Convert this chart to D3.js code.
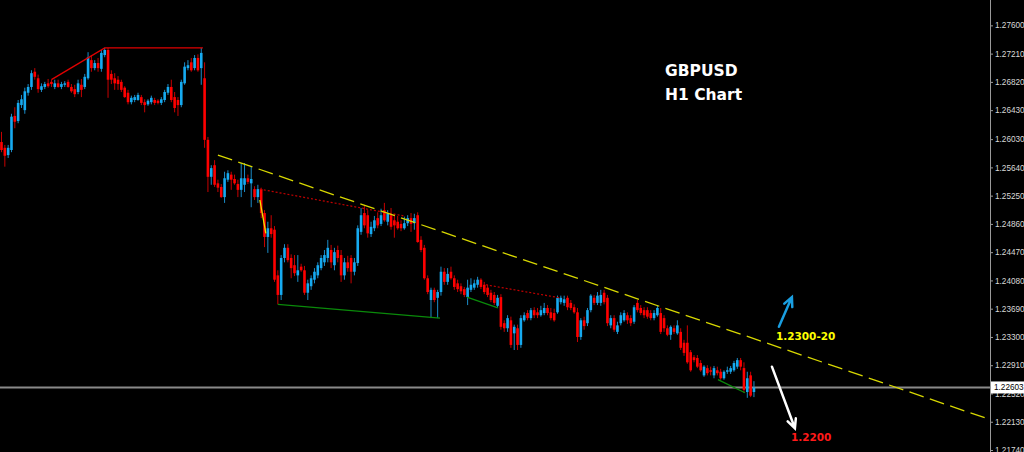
<!DOCTYPE html>
<html><head><meta charset="utf-8">
<script src="https://cdn.jsdelivr.net/npm/d3@7"></script>
<style>html,body{margin:0;padding:0;background:#000;overflow:hidden}</style>
</head><body><svg id="c" width="1024" height="452"></svg>
<script>
// GBPUSD H1 candles (price)
const openP = [1.2599,1.2591,1.2581,1.2588,1.2635,1.2628,1.2650,1.2643,1.2667,1.2675,
1.2696,1.2687,1.2671,1.2675,1.2680,1.2682,1.2675,1.2680,1.2675,1.2678,
1.2682,1.2675,1.2672,1.2668,1.2678,1.2675,1.2687,1.2712,1.2701,1.2708,
1.2700,1.2719,1.2726,1.2693,1.2687,1.2685,1.2682,1.2674,1.2667,1.2654,
1.2657,1.2657,1.2661,1.2654,1.2651,1.2654,1.2657,1.2656,1.2653,1.2657,
1.2667,1.2675,1.2661,1.2657,1.2650,1.2680,1.2701,1.2709,1.2701,1.2715,
1.2701,1.2687,1.2602,1.2551,1.2567,1.2542,1.2537,1.2523,1.2547,1.2554,
1.2548,1.2541,1.2533,1.2540,1.2549,1.2542,1.2534,1.2523,1.2534,1.2501,
1.2468,1.2480,1.2478,1.2415,1.2388,1.2439,1.2453,1.2439,1.2429,1.2415,
1.2427,1.2422,1.2391,1.2400,1.2409,1.2415,1.2425,1.2433,1.2439,1.2450,
1.2429,1.2450,1.2443,1.2415,1.2433,1.2439,1.2420,1.2432,1.2475,1.2501,
1.2498,1.2472,1.2480,1.2494,1.2486,1.2505,1.2489,1.2498,1.2491,1.2489,
1.2486,1.2480,1.2487,1.2494,1.2487,1.2498,1.2464,1.2453,1.2411,1.2381,
1.2395,1.2384,1.2392,1.2420,1.2406,1.2420,1.2411,1.2404,1.2400,1.2396,
1.2385,1.2395,1.2398,1.2402,1.2409,1.2402,1.2398,1.2391,1.2388,1.2373,
1.2385,1.2349,1.2342,1.2353,1.2335,1.2342,1.2319,1.2353,1.2363,1.2356,
1.2367,1.2364,1.2360,1.2363,1.2370,1.2364,1.2363,1.2364,1.2378,1.2377,
1.2384,1.2377,1.2371,1.2364,1.2330,1.2353,1.2349,1.2367,1.2384,1.2377,
1.2377,1.2391,1.2384,1.2346,1.2356,1.2337,1.2349,1.2353,1.2360,1.2356,
1.2351,1.2377,1.2370,1.2367,1.2367,1.2363,1.2356,1.2360,1.2363,1.2356,
1.2342,1.2333,1.2342,1.2335,1.2337,1.2322,1.2322,1.2309,1.2302,1.2301,
1.2294,1.2277,1.2287,1.2284,1.2277,1.2284,1.2282,1.2273,1.2282,1.2282,
1.2284,1.2289,1.2298,1.2287,1.2254,1.2277,1.2254];
const highP = [1.2613,1.2595,1.2595,1.2638,1.2647,1.2657,1.2664,1.2674,1.2679,1.2698,
1.2701,1.2692,1.2680,1.2682,1.2686,1.2685,1.2685,1.2685,1.2682,1.2683,
1.2685,1.2679,1.2678,1.2685,1.2686,1.2693,1.2723,1.2719,1.2712,1.2715,
1.2726,1.2729,1.2729,1.2698,1.2694,1.2690,1.2685,1.2676,1.2671,1.2663,
1.2664,1.2667,1.2664,1.2658,1.2658,1.2663,1.2660,1.2658,1.2661,1.2671,
1.2679,1.2685,1.2668,1.2661,1.2685,1.2709,1.2712,1.2715,1.2719,1.2720,
1.2729,1.2709,1.2606,1.2567,1.2574,1.2547,1.2541,1.2558,1.2560,1.2558,
1.2554,1.2547,1.2570,1.2570,1.2554,1.2565,1.2538,1.2540,1.2536,1.2505,
1.2489,1.2498,1.2483,1.2422,1.2443,1.2458,1.2458,1.2444,1.2443,1.2443,
1.2431,1.2428,1.2409,1.2415,1.2425,1.2433,1.2443,1.2450,1.2464,1.2457,
1.2453,1.2456,1.2450,1.2439,1.2442,1.2443,1.2439,1.2484,1.2508,1.2512,
1.2505,1.2489,1.2497,1.2502,1.2507,1.2515,1.2505,1.2508,1.2500,1.2497,
1.2491,1.2496,1.2498,1.2501,1.2500,1.2502,1.2469,1.2457,1.2415,1.2398,
1.2398,1.2395,1.2427,1.2425,1.2425,1.2427,1.2415,1.2409,1.2404,1.2399,
1.2409,1.2411,1.2409,1.2413,1.2411,1.2406,1.2402,1.2395,1.2392,1.2388,
1.2389,1.2353,1.2360,1.2358,1.2347,1.2347,1.2360,1.2364,1.2367,1.2370,
1.2371,1.2370,1.2373,1.2377,1.2374,1.2370,1.2369,1.2387,1.2387,1.2387,
1.2387,1.2381,1.2375,1.2370,1.2356,1.2358,1.2370,1.2389,1.2388,1.2392,
1.2395,1.2395,1.2388,1.2360,1.2360,1.2351,1.2364,1.2367,1.2364,1.2360,
1.2374,1.2381,1.2374,1.2371,1.2371,1.2367,1.2367,1.2374,1.2370,1.2360,
1.2346,1.2346,1.2346,1.2353,1.2342,1.2326,1.2346,1.2312,1.2305,1.2305,
1.2298,1.2291,1.2291,1.2289,1.2290,1.2289,1.2286,1.2284,1.2289,1.2290,
1.2297,1.2301,1.2301,1.2295,1.2282,1.2282,1.2269];
const lowP = [1.2585,1.2565,1.2577,1.2585,1.2618,1.2625,1.2646,1.2638,1.2663,1.2671,
1.2685,1.2667,1.2668,1.2672,1.2674,1.2675,1.2672,1.2674,1.2672,1.2675,
1.2674,1.2667,1.2661,1.2665,1.2661,1.2672,1.2685,1.2696,1.2698,1.2696,
1.2696,1.2716,1.2660,1.2679,1.2671,1.2671,1.2668,1.2660,1.2651,1.2651,
1.2654,1.2656,1.2650,1.2640,1.2649,1.2651,1.2650,1.2651,1.2650,1.2654,
1.2664,1.2654,1.2640,1.2635,1.2647,1.2678,1.2698,1.2696,1.2698,1.2696,
1.2678,1.2591,1.2530,1.2540,1.2537,1.2530,1.2522,1.2515,1.2544,1.2533,
1.2540,1.2523,1.2523,1.2530,1.2541,1.2509,1.2519,1.2515,1.2494,1.2454,
1.2446,1.2467,1.2406,1.2375,1.2381,1.2433,1.2433,1.2411,1.2414,1.2406,
1.2420,1.2388,1.2381,1.2395,1.2404,1.2411,1.2422,1.2428,1.2433,1.2425,
1.2422,1.2433,1.2406,1.2409,1.2420,1.2404,1.2415,1.2428,1.2471,1.2480,
1.2467,1.2468,1.2476,1.2480,1.2483,1.2489,1.2484,1.2478,1.2467,1.2478,
1.2476,1.2478,1.2483,1.2475,1.2478,1.2460,1.2447,1.2409,1.2389,1.2356,
1.2378,1.2356,1.2387,1.2402,1.2402,1.2409,1.2395,1.2392,1.2389,1.2385,
1.2374,1.2392,1.2395,1.2398,1.2396,1.2389,1.2385,1.2378,1.2374,1.2370,
1.2340,1.2337,1.2337,1.2315,1.2312,1.2312,1.2315,1.2351,1.2353,1.2353,
1.2356,1.2356,1.2358,1.2360,1.2360,1.2353,1.2351,1.2362,1.2375,1.2373,
1.2367,1.2367,1.2362,1.2323,1.2326,1.2340,1.2345,1.2364,1.2374,1.2374,
1.2373,1.2375,1.2345,1.2342,1.2337,1.2334,1.2346,1.2351,1.2348,1.2345,
1.2348,1.2364,1.2360,1.2356,1.2355,1.2353,1.2353,1.2358,1.2334,1.2337,
1.2331,1.2326,1.2334,1.2333,1.2312,1.2304,1.2293,1.2282,1.2295,1.2287,
1.2282,1.2275,1.2277,1.2277,1.2273,1.2277,1.2271,1.2271,1.2279,1.2279,
1.2282,1.2286,1.2284,1.2253,1.2246,1.2247,1.2247];
const closeP = [1.2588,1.2580,1.2591,1.2634,1.2627,1.2653,1.2658,1.2669,1.2675,1.2694,
1.2689,1.2672,1.2676,1.2679,1.2676,1.2679,1.2680,1.2675,1.2679,1.2680,
1.2675,1.2669,1.2665,1.2680,1.2671,1.2689,1.2716,1.2701,1.2708,1.2701,
1.2722,1.2726,1.2685,1.2685,1.2680,1.2679,1.2671,1.2661,1.2654,1.2660,
1.2661,1.2664,1.2653,1.2650,1.2656,1.2660,1.2653,1.2653,1.2658,1.2668,
1.2675,1.2657,1.2646,1.2650,1.2682,1.2703,1.2705,1.2698,1.2715,1.2698,
1.2722,1.2602,1.2551,1.2563,1.2540,1.2536,1.2523,1.2549,1.2556,1.2547,
1.2542,1.2533,1.2549,1.2549,1.2544,1.2548,1.2523,1.2534,1.2501,1.2468,
1.2480,1.2472,1.2409,1.2388,1.2439,1.2453,1.2436,1.2425,1.2418,1.2422,
1.2422,1.2391,1.2404,1.2411,1.2420,1.2429,1.2439,1.2443,1.2453,1.2433,
1.2447,1.2439,1.2415,1.2433,1.2425,1.2420,1.2433,1.2480,1.2498,1.2484,
1.2473,1.2482,1.2491,1.2484,1.2498,1.2491,1.2500,1.2482,1.2484,1.2480,
1.2480,1.2487,1.2494,1.2486,1.2494,1.2461,1.2450,1.2411,1.2392,1.2395,
1.2381,1.2392,1.2420,1.2406,1.2417,1.2411,1.2399,1.2396,1.2393,1.2388,
1.2398,1.2402,1.2404,1.2409,1.2399,1.2392,1.2388,1.2381,1.2377,1.2384,
1.2344,1.2342,1.2356,1.2319,1.2344,1.2319,1.2356,1.2360,1.2356,1.2367,
1.2360,1.2360,1.2367,1.2370,1.2363,1.2356,1.2353,1.2384,1.2384,1.2382,
1.2371,1.2370,1.2364,1.2330,1.2353,1.2345,1.2367,1.2387,1.2377,1.2387,
1.2388,1.2378,1.2349,1.2356,1.2340,1.2346,1.2360,1.2363,1.2353,1.2349,
1.2371,1.2367,1.2363,1.2360,1.2358,1.2356,1.2363,1.2370,1.2337,1.2342,
1.2333,1.2344,1.2337,1.2346,1.2315,1.2308,1.2295,1.2284,1.2298,1.2289,
1.2284,1.2289,1.2280,1.2282,1.2287,1.2280,1.2273,1.2282,1.2284,1.2287,
1.2294,1.2298,1.2289,1.2257,1.2273,1.2249,1.22603];

const priceTicks = [1.27600,1.27210,1.26820,1.26430,1.26030,1.25640,1.25250,1.24860,
  1.24470,1.24080,1.23690,1.23300,1.22910,1.22520,1.22130,1.21740];
const lastPrice = 1.22603;

// annotation lines [barIndex, price]
const redSolid   = [[15,1.2685],[31,1.2729],[60.5,1.2729]];
const redDotted1 = [[77.6,1.2534],[120.9,1.2497]];
const redDotted2 = [[145.5,1.2402],[167.7,1.2384]];
const green1 = [[83,1.2375],[131.7,1.2356]];
const green2 = [[139.8,1.2385],[149.1,1.2370]];
const green3 = [[215.2,1.2271],[223.3,1.2253]];
const yellowShort = [[77.6,1.2519],[79.4,1.2473]];
const trendLine = [[65,1.2581],[296.9,1.2216]];
const upArrow = [[233.5,1.2344],[237.4,1.2385]];
const downArrow = [[231.4,1.2289],[238.3,1.2204]];
const targetLabels = [
  {text:"1.2300-20", i:232.6, p:1.2331, color:"#ffff00"},
  {text:"1.2200", i:237.1, p:1.2191, color:"#ff1a1a"}
];
const titleLines = ["GBPUSD","H1 Chart"];

const W = 1024, H = 452, axisX = 990;
const svg = d3.select("#c");
svg.append("rect").attr("width",W).attr("height",H).attr("fill","#000");

const x = d3.scaleLinear().domain([0, 296.9]).range([1.5, axisX]);
const y = d3.scaleLinear().domain([1.217124, 1.2795]).range([H, 0]);

const plot = svg.append("g");
const line = d3.line().x(d=>x(d[0])).y(d=>y(d[1]));

// current price line
plot.append("line").attr("x1",0).attr("x2",axisX).attr("y1",y(lastPrice)).attr("y2",y(lastPrice))
  .attr("stroke","#8a8a8a").attr("stroke-width",2);

// candles
const idx = d3.range(openP.length);
const bw = 2.6;
const g = plot.append("g");
g.selectAll("line.w").data(idx).join("line").attr("class","w")
  .attr("x1",i=>x(i)).attr("x2",i=>x(i))
  .attr("y1",i=>y(highP[i])).attr("y2",i=>y(lowP[i]))
  .attr("stroke",i=>closeP[i]>=openP[i]?"#1a8cc8":"#c80000").attr("stroke-width",1);
g.selectAll("rect.b").data(idx).join("rect").attr("class","b")
  .attr("x",i=>x(i)-bw/2).attr("width",bw)
  .attr("y",i=>y(Math.max(openP[i],closeP[i])))
  .attr("height",i=>Math.max(1,Math.abs(y(openP[i])-y(closeP[i]))))
  .attr("fill",i=>closeP[i]>=openP[i]?"#16aaf0":"#ff0000");

// annotation lines
plot.append("path").attr("d",line(redSolid)).attr("fill","none").attr("stroke","#e00000").attr("stroke-width",1.4);
[redDotted1, redDotted2].forEach(l=>plot.append("path").attr("d",line(l)).attr("fill","none")
  .attr("stroke","#c00000").attr("stroke-width",1.2).attr("stroke-dasharray","2,2"));
[green1, green2, green3].forEach(l=>plot.append("path").attr("d",line(l)).attr("fill","none")
  .attr("stroke","#0a8a0a").attr("stroke-width",1.3));
plot.append("path").attr("d",line(yellowShort)).attr("fill","none").attr("stroke","#e8e800").attr("stroke-width",1.3);
plot.append("path").attr("d",line(trendLine)).attr("fill","none").attr("stroke","#d8d800")
  .attr("stroke-width",1.3).attr("stroke-dasharray","15,6.5");

// arrows
function arrow(pts, color){
  const x1=x(pts[0][0]), y1=y(pts[0][1]), x2=x(pts[1][0]), y2=y(pts[1][1]);
  const a = Math.atan2(y2-y1, x2-x1), L=10, s=0.45;
  const h1=[x2-L*Math.cos(a-s), y2-L*Math.sin(a-s)], h2=[x2-L*Math.cos(a+s), y2-L*Math.sin(a+s)];
  plot.append("path").attr("d",`M${x1},${y1}L${x2},${y2}M${h1[0]},${h1[1]}L${x2},${y2}L${h2[0]},${h2[1]}`)
    .attr("fill","none").attr("stroke",color).attr("stroke-width",2.5).attr("stroke-linecap","round");
}
arrow(upArrow, "#1a9ee0");
arrow(downArrow, "#ffffff");

plot.selectAll("text.t").data(targetLabels).join("text").attr("class","t")
  .attr("x",d=>x(d.i)).attr("y",d=>y(d.p)).attr("dy","0.36em")
  .attr("fill",d=>d.color).attr("font-family","DejaVu Sans, sans-serif").attr("font-weight","bold")
  .attr("font-size",10.5).text(d=>d.text);

svg.selectAll("text.title").data(titleLines).join("text").attr("class","title")
  .attr("x",665).attr("y",(d,k)=>76+k*24).attr("fill","#fff")
  .attr("font-family","DejaVu Sans, sans-serif").attr("font-weight","bold").attr("font-size",15.5).text(d=>d);

// price axis
const ax = svg.append("g").attr("transform",`translate(${axisX},0)`)
  .call(d3.axisRight(y).tickValues(priceTicks).tickSize(3).tickSizeOuter(0).tickFormat(d3.format(".5f")));
ax.select(".domain").attr("stroke","#9a9a9a").attr("d",`M0.5,0V${H}`);
ax.selectAll(".tick line").attr("stroke","#9a9a9a");
ax.selectAll(".tick text").attr("fill","#d8d8d8").attr("font-family","Liberation Sans, Arial, sans-serif")
  .attr("font-size",8.2).attr("x",5);

// current price tag
const py = y(lastPrice);
svg.append("rect").attr("x",axisX+1).attr("y",py-6).attr("width",W-axisX-1).attr("height",12).attr("fill","#fff");
svg.append("text").attr("x",axisX+4).attr("y",py).attr("dy","0.35em").attr("fill","#000")
  .attr("font-family","Liberation Sans, Arial, sans-serif").attr("font-size",8.2).text(d3.format(".5f")(lastPrice));
</script></body></html>
